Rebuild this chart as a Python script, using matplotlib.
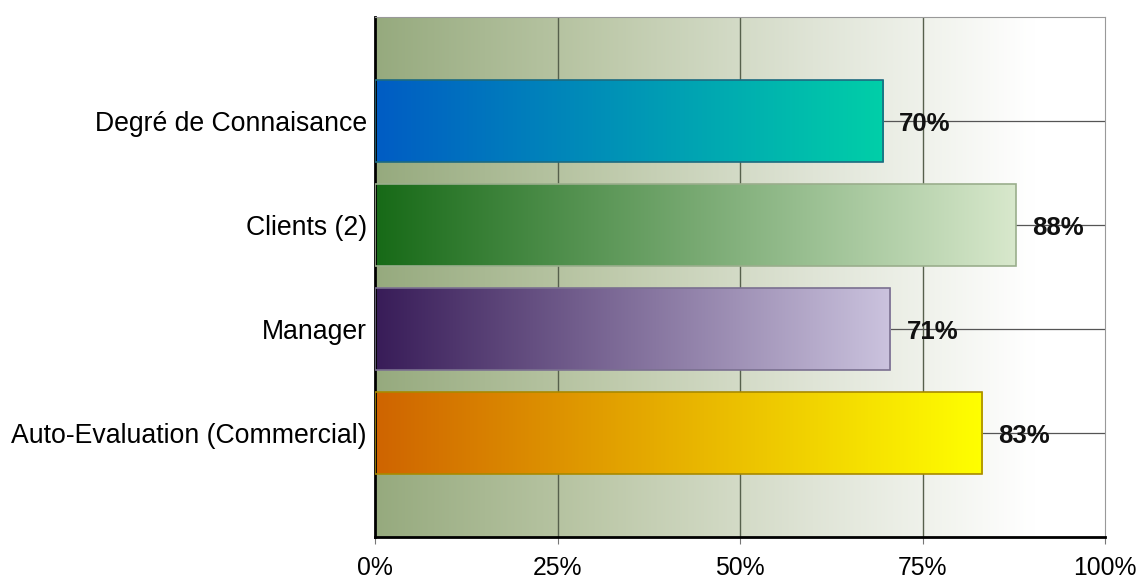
import numpy as np
import matplotlib
matplotlib.use("Agg")
import matplotlib.pyplot as plt
from matplotlib.colors import LinearSegmentedColormap

plt.rcParams['font.family'] = ['Liberation Sans', 'DejaVu Sans']

# categories listed bottom to top
categories = ["Auto-Evaluation (Commercial)", "Manager", "Clients (2)", "Degré de Connaisance"]
values = [83.2, 70.6, 87.8, 69.6]
xticks = [0, 25, 50, 75, 100]
xtick_labels = ["0%", "25%", "50%", "75%", "100%"]

bar_colors = [
    ("#cf6400", "#ffff00"),
    ("#381c58", "#cbc3de"),
    ("#176a17", "#d8e8cc"),
    ("#005cc4", "#00cfa8"),
]
edge_colors = ["#a88a00", "#7a7090", "#9aae8c", "#1d6b80"]

fig = plt.figure(figsize=(11.41, 5.79), dpi=100)
ax = fig.add_axes([375 / 1141, 42 / 579, 730 / 1141, 520 / 579])
ax.set_xlim(0, 100)
ax.set_ylim(-1, 4)

# background: olive green fading to white
bg = LinearSegmentedColormap.from_list(
    "bg", [(0, "#96aa7e"), (0.3, "#bcc8a8"), (0.6, "#dfe4d6"), (0.9, "#ffffff"), (1, "#ffffff")])
grad = np.linspace(0, 1, 256).reshape(1, -1)
ax.imshow(grad, cmap=bg, extent=[0, 100, -1, 4], aspect="auto", zorder=0,
          interpolation="bicubic")

# grid lines
for x in xticks[1:-1]:
    ax.axvline(x, color="#56604c", lw=1.0, zorder=1)
for i in range(len(categories)):
    ax.axhline(i, color="#555555", lw=0.9, zorder=1)

h = 0.78
for i, (cat, v) in enumerate(zip(categories, values)):
    cmap = LinearSegmentedColormap.from_list(f"c{i}", bar_colors[i])
    ax.imshow(grad, cmap=cmap, extent=[0, v, i - h / 2, i + h / 2],
              aspect="auto", zorder=2, interpolation="bicubic")
    ax.add_patch(plt.Rectangle((0, i - h / 2), v, h, fill=False,
                               edgecolor=edge_colors[i], lw=1.2, zorder=3))
    ax.text(v + 2.2, i - 0.03, f"{v:.0f}%", ha="left", va="center",
            fontsize=18.5, fontweight="bold", color="#111111", zorder=4)

ax.set_xlim(0, 100)
ax.set_ylim(-1, 4)
ax.set_yticks(range(len(categories)))
ax.set_yticklabels(categories, fontsize=19.2)
ax.set_xticks(xticks)
ax.set_xticklabels(xtick_labels, fontsize=17.8)
ax.tick_params(axis="y", length=0, pad=6)
ax.tick_params(axis="x", length=5, color="#777777", pad=9)

ax.spines["left"].set_color("black")
ax.spines["left"].set_linewidth(2)
ax.spines["bottom"].set_color("black")
ax.spines["bottom"].set_linewidth(2)
ax.spines["right"].set_color("#999999")
ax.spines["top"].set_color("#999999")

fig.savefig("out.png", dpi=100)
